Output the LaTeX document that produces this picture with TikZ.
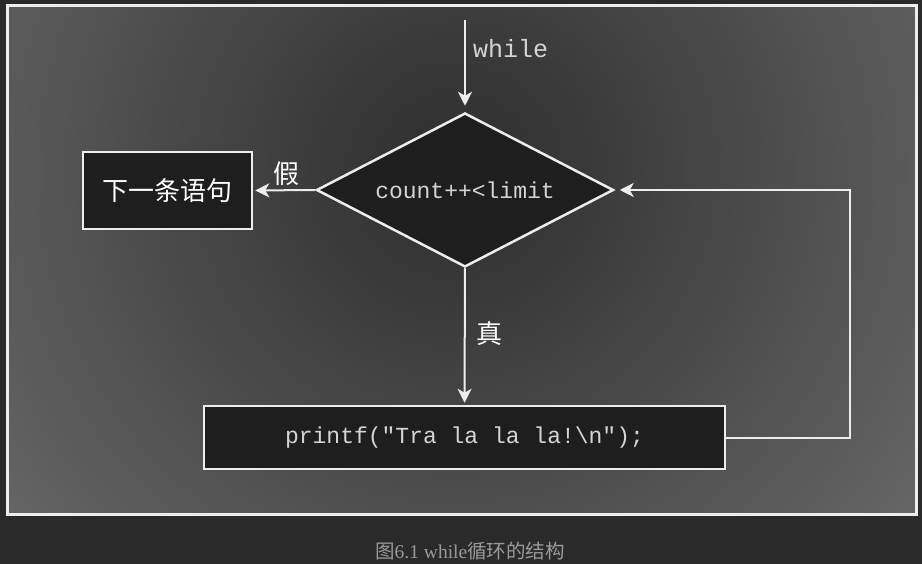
\documentclass[tikz,border=0pt]{standalone}
\usepackage{fontspec}
\setmainfont{Liberation Serif}
\setmonofont{Liberation Mono}
\newfontfamily\cjk{Noto Sans CJK SC}
\usetikzlibrary{shapes.geometric,arrows.meta}
\definecolor{pagebg}{HTML}{2A2A2A}
\definecolor{shadein}{HTML}{2D2D2D}
\definecolor{shadeout}{HTML}{6A6A6A}
\definecolor{linec}{HTML}{EDEDED}
\definecolor{boxfill}{HTML}{1E1E1E}
\definecolor{monotext}{HTML}{D4D4D4}
\definecolor{captext}{HTML}{9A9A9A}
\tikzset{
  wline/.style={draw=linec, line width=2pt},
  arr/.style={wline, -{Stealth[length=14pt,width=14pt,inset=4pt]}},
  boxnode/.style={draw=linec, line width=2.5pt, fill=boxfill, inner sep=0pt},
  monolabel/.style={text=monotext, font=\ttfamily\fontsize{23}{27}\selectfont},
  cjklabel/.style={text=white, font=\cjk\fontsize{26}{30}\selectfont, inner sep=0pt},
}
\begin{document}
\begin{tikzpicture}[x=1pt,y=-1pt]
\useasboundingbox (0,0) rectangle (922,564);
\fill[pagebg] (0,0) rectangle (922,564);
\begin{scope}
  \clip (7,6) rectangle (916,514);
  \shade[inner color=shadein, outer color=shadeout] (455,170) circle[radius=620pt];
\end{scope}
\draw[draw=linec, line width=3pt] (7,6) rectangle (916,514);

% nodes
\node[boxnode, diamond, aspect=1.93, minimum width=297pt, minimum height=154pt, monolabel] (cond) at (465,190) {count++<limit};
\node[boxnode, minimum width=169pt, minimum height=77pt, cjklabel] (next) at (167.5,190.5) {下一条语句};
\node[boxnode, minimum width=521pt, minimum height=63pt, monolabel] (body) at (464.5,437.5) {printf("Tra la la la!\textbackslash n");};
\coordinate (start) at (465,20);
\coordinate (lp) at (850,190);

% labels
\node[text=monotext, font=\ttfamily\fontsize{25}{29}\selectfont, anchor=west, inner sep=0pt] (whilelbl) at (473,49) {while};
\node[cjklabel] (falselbl) at (286,174) {假};
\node[cjklabel] (truelbl) at (489,334) {真};

% connectors
\draw[arr, shorten >=6pt] (start) -- (cond.north);
\draw[arr, shorten >=2pt] (cond.west) -- (next.east);
\draw[arr, shorten >=2pt] (cond.south) -- (body.north);
\draw[arr, shorten >=5pt] (body.east) -| (lp) -- (cond.east);

% caption
\node[text=captext, font=\fontsize{19.5}{23}\selectfont, inner sep=0pt] (cap) at (470,551) {{\cjk 图}6.1 while{\cjk 循环的结构}};
\end{tikzpicture}
\end{document}
